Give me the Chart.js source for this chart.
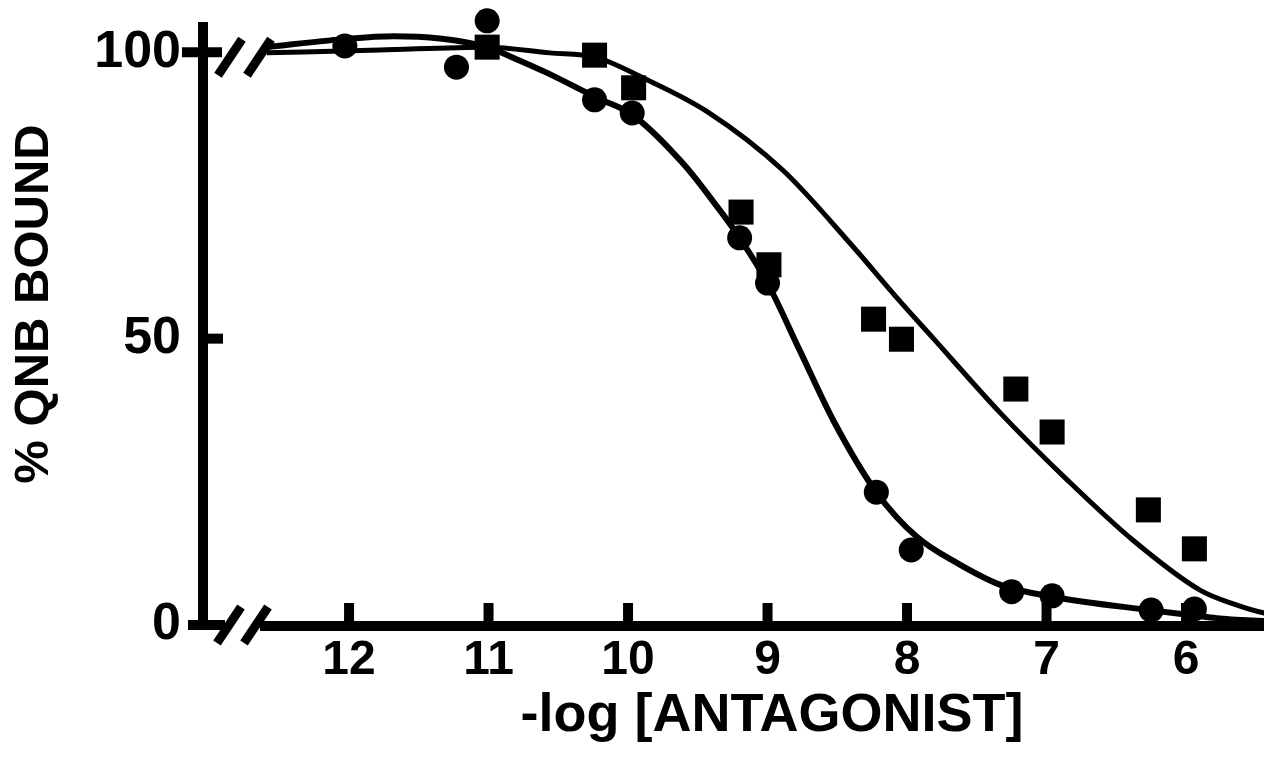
<!DOCTYPE html>
<html>
<head>
<meta charset="utf-8">
<title>% QNB bound</title>
<script src="https://cdn.jsdelivr.net/npm/chart.js@4/dist/chart.umd.min.js"></script>
<style>
  html, body { margin: 0; padding: 0; background: #fff; overflow: hidden; }
  #wrap { width: 1341px; height: 778px; margin-top: -17px; }
</style>
</head>
<body>
<div id="wrap"><canvas id="binding" width="1341" height="778"></canvas></div>
<script>
// displacement of QNB binding by two antagonists, with fitted curves
const X_TICKS = [12, 11, 10, 9, 8, 7, 6];
const Y_TICKS = [0, 50, 100];
const Y_AXIS_TOP = 105.3;

// filled circles
const circleX = [12.03, 11.23, 11.01, 10.24, 9.97, 9.20, 9.00, 8.22, 7.97, 7.25, 6.96, 6.25, 5.94];
const circleY = [101.1, 97.4, 105.5, 91.7, 89.4, 67.6, 59.7, 23.2, 13.1, 5.8, 5.1, 2.6, 2.8];

// filled squares
const squareX = [11.01, 10.24, 9.96, 9.19, 8.99, 8.24, 8.04, 7.22, 6.96, 6.27, 5.94];
const squareY = [100.9, 99.5, 93.8, 72.1, 62.9, 53.4, 49.9, 41.2, 33.7, 20.1, 13.3];

// fitted curve through the circles
const circleFitX = [12.59, 12.04, 11.68, 11.35, 11.01, 10.80, 10.58, 10.22, 9.97, 9.61, 9.36, 9.20, 9.00, 8.77, 8.53, 8.22, 7.93, 7.64, 7.33, 6.95, 6.26, 5.95, 5.78, 5.40];
const circleFitY = [100.9, 102.3, 102.8, 102.4, 100.9, 98.8, 96.4, 92.0, 89.1, 80.7, 73.0, 67.6, 59.7, 48.0, 35.8, 23.2, 15.4, 10.8, 7.0, 4.9, 2.6, 1.7, 1.2, 0.6];

// fitted curve through the squares
const squareFitX = [12.59, 11.78, 11.01, 10.56, 10.24, 9.89, 9.43, 8.89, 8.41, 8.05, 7.81, 7.33, 6.85, 6.38, 5.90, 5.65, 5.44, 5.00];
const squareFitY = [99.9, 100.4, 100.9, 99.9, 99.2, 95.5, 89.6, 79.4, 66.7, 56.5, 50.0, 37.0, 25.3, 14.8, 6.1, 3.6, 2.1, 0.8];

const pts = (xs, ys) => xs.map((x, i) => ({ x: x, y: ys[i] }));

const FONT = "'Liberation Sans', Arial, Helvetica, sans-serif";

// axis lines with break marks, inward tick marks
const axisMarks = {
  id: 'axisMarks',
  afterDraw(chart) {
    const ctx = chart.ctx;
    const xs = chart.scales.x, ys = chart.scales.y;
    const left = chart.chartArea.left, right = chart.chartArea.right;
    const y0 = ys.getPixelForValue(0);
    const y50 = ys.getPixelForValue(50);
    const y100 = ys.getPixelForValue(100);

    ctx.save();
    ctx.strokeStyle = '#000';
    ctx.lineCap = 'butt';
    ctx.lineWidth = 10;

    const seg = (x1, y1, x2, y2) => {
      ctx.beginPath();
      ctx.moveTo(x1, y1);
      ctx.lineTo(x2, y2);
      ctx.stroke();
    };

    // y axis
    seg(left, ys.getPixelForValue(Y_AXIS_TOP), left, y0 + 1);

    // x axis, resuming after the break
    seg(left + 57, y0 + 1, right, y0 + 1);
    X_TICKS.forEach(v => {
      const px = xs.getPixelForValue(v);
      seg(px, y0 - 22, px, y0);
    });

    // y ticks
    seg(left - 21, y100, left + 19, y100);
    seg(left, y50, left + 20, y50);
    seg(left - 15, y0, left + 22, y0);

    // break slashes
    ctx.lineWidth = 9;
    const slash = (cx, cy) => seg(cx - 12, cy + 18, cx + 12, cy - 18);
    slash(left + 27, y100 + 5);
    slash(left + 56, y100 + 5);
    slash(left + 26, y0);
    slash(left + 53, y0);
    ctx.restore();
  }
};

new Chart(document.getElementById('binding'), {
  type: 'scatter',
  data: {
    datasets: [
      {
        label: 'circles',
        data: pts(circleX, circleY),
        pointStyle: 'circle',
        pointRadius: 12.5,
        backgroundColor: '#000',
        borderWidth: 0,
        clip: false
      },
      {
        label: 'squares',
        data: pts(squareX, squareY),
        pointStyle: 'rect',
        pointRadius: 17.7,
        backgroundColor: '#000',
        borderWidth: 0,
        clip: false
      },
      {
        label: 'circle fit',
        data: pts(circleFitX, circleFitY),
        showLine: true,
        pointRadius: 0,
        borderColor: '#000',
        borderWidth: 6,
        cubicInterpolationMode: 'monotone',
        clip: false
      },
      {
        label: 'square fit',
        data: pts(squareFitX, squareFitY),
        showLine: true,
        pointRadius: 0,
        borderColor: '#000',
        borderWidth: 5,
        cubicInterpolationMode: 'monotone',
        clip: false
      }
    ]
  },
  options: {
    responsive: false,
    animation: false,
    layout: { padding: 0, autoPadding: false },
    plugins: {
      legend: { display: false },
      tooltip: { enabled: false }
    },
    scales: {
      x: {
        type: 'linear',
        reverse: true,
        min: 4.889,
        max: 13.047,
        grid: { display: false, drawTicks: false },
        border: { display: false },
        afterBuildTicks: s => { s.ticks = X_TICKS.map(v => ({ value: v })); },
        afterFit: s => { s.height = 136; s.paddingLeft = 0; s.paddingRight = 0; },
        ticks: {
          autoSkip: false,
          maxRotation: 0,
          padding: 7,
          color: '#000',
          font: { family: FONT, size: 48, weight: 'bold' },
          callback: v => String(v)
        },
        title: {
          display: true,
          text: '-log [ANTAGONIST]',
          color: '#000',
          font: { family: FONT, size: 54, weight: 'bold' },
          padding: { top: 0, bottom: 12 }
        }
      },
      y: {
        min: 0,
        max: 112.1,
        grid: { display: false, drawTicks: false },
        border: { display: false },
        afterBuildTicks: s => { s.ticks = Y_TICKS.map(v => ({ value: v })); },
        afterFit: s => { s.width = 203; s.paddingTop = 0; s.paddingBottom = 0; },
        ticks: {
          padding: 22,
          color: '#000',
          font: { family: FONT, size: 52, weight: 'bold' },
          callback: v => String(v)
        },
        title: {
          display: true,
          text: '% QNB BOUND',
          color: '#000',
          font: { family: FONT, size: 49, weight: 'bold' },
          padding: { top: 5, bottom: 0 }
        }
      }
    }
  },
  plugins: [axisMarks]
});
</script>
</body>
</html>
